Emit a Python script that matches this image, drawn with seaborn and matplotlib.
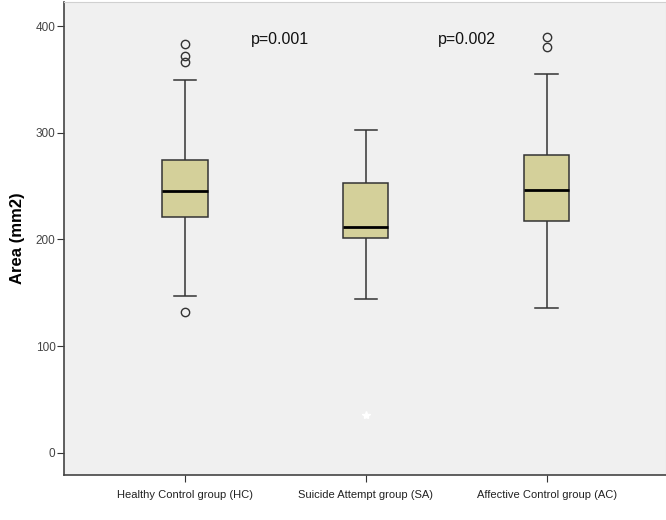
import numpy as np
import pandas as pd
import seaborn as sns
import matplotlib.pyplot as plt

# summary values (mm2)
groups = ["Healthy Control group (HC)", "Suicide Attempt group (SA)", "Affective Control group (AC)"]
whisker_low = [147, 144, 136]
q1 = [221, 201, 217]
median = [245, 212, 246]
q3 = [274, 253, 279]
whisker_high = [349, 303, 355]
outliers = [[132, 366, 372, 383], [35], [380, 390]]
p_labels = ["p=0.001", "p=0.002"]

# rebuild samples that give exactly these box statistics
rows = []
for i, g in enumerate(groups):
    vals = [whisker_low[i], whisker_high[i]] + outliers[i]
    vals += [q1[i]] * 6 + [median[i]] * 6 + [q3[i]] * 6
    rows += [(g, v) for v in vals]
df = pd.DataFrame(rows, columns=["group", "area"])

plt.rcParams['font.family'] = ['Liberation Sans', 'DejaVu Sans']
fig = plt.figure(figsize=(6.66, 5.2), dpi=100)
ax = fig.add_axes([0.096, 0.087, 0.904, 0.909])
ax.set_facecolor('#f0f0f0')

sns.boxplot(data=df, x="group", y="area", order=groups, width=0.25, color='#d4d09a',
            saturation=1, linecolor='#333333', linewidth=1.1, ax=ax,
            medianprops=dict(color='black', linewidth=2),
            flierprops=dict(marker='o', markerfacecolor='none', markeredgecolor='#333333',
                            markersize=6, markeredgewidth=1))

# the extreme value in SA is drawn as a faint white star
for ln in ax.lines:
    yd = np.asarray(ln.get_ydata(), dtype=float)
    if ln.get_marker() == 'o' and len(yd) and np.any(yd < 60):
        ln.set_marker('*')
        ln.set_markeredgecolor('white')
        ln.set_markerfacecolor('white')
        ln.set_markersize(6)

ax.text(0.525, 387, p_labels[0], ha='center', va='center', fontsize=11.5, color='#111111')
ax.text(1.56, 387, p_labels[1], ha='center', va='center', fontsize=11.5, color='#111111')

ax.set_ylim(-20.6, 422.5)
ax.set_xlim(-0.67, 2.66)
ax.set_yticks([0, 100, 200, 300, 400])
ax.set_xlabel('')
ax.set_ylabel('Area (mm2)', fontsize=12, fontweight='bold', labelpad=8)
ax.tick_params(axis='y', labelsize=8.5, labelcolor='#444444', length=5, color='#333333', pad=1)
ax.tick_params(axis='x', labelsize=8, labelcolor='#222222', length=5, color='#333333', pad=6)
for s in ['left', 'bottom']:
    ax.spines[s].set_color('#444444')
    ax.spines[s].set_linewidth(1.2)
for s in ['top', 'right']:
    ax.spines[s].set_color('#d0d0d0')

fig.savefig('out.png', dpi=100)
